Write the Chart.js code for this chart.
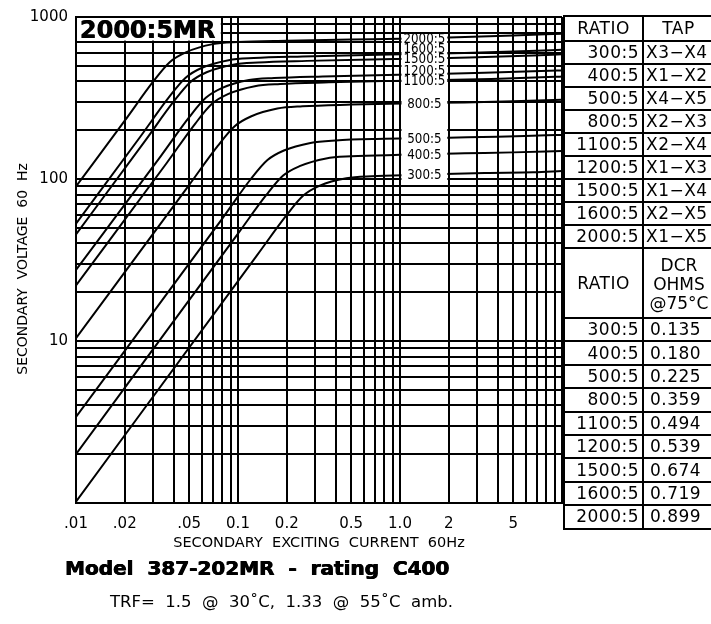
<!DOCTYPE html>
<html>
<head>
<meta charset="utf-8">
<script src="https://cdn.jsdelivr.net/npm/chart.js@4.4.1/dist/chart.umd.min.js"></script>
<style>
  body { margin: 0; background: #fff; }
  #wrap { position: relative; width: 711px; height: 624px; overflow: hidden; font-family: "DejaVu Sans", sans-serif; color: #000; }
  #excite_chart { position: absolute; left: 0; top: 0; }
  .tbl { position: absolute; left: 563px; width: 150px; border-collapse: collapse; table-layout: fixed; font-size: 17px; letter-spacing: 0.5px; }
  .tbl td { border: 2px solid #000; padding: 0; white-space: nowrap; overflow: hidden; line-height: 1; }
  .tbl td.r { text-align: right; padding-right: 3px; }
  .tbl td.l { text-align: left; padding-left: 2px; }
  .tbl td.v { text-align: left; padding-left: 6px; }
  .tbl td.c { text-align: center; }
  .tbl td.dcr { font-size: 17px; line-height: 19px; letter-spacing: 0; padding-left: 1px; padding-top: 2px; }
  #tap_table { top: 15px; }
  #tap_table tr { height: 23px; }
  #tap_table tr.head { height: 25px; }
  #dcr_table { top: 247px; }
  #dcr_table tr { height: 23.4px; }
  #dcr_table tr.head { height: 70px; }
  #model_line { position: absolute; left: 65px; top: 556px; font-weight: bold; font-size: 20px; white-space: pre; text-shadow: 0.6px 0 0 #000, -0.3px 0 0 #000; }
  #trf_line { position: absolute; left: 110px; top: 592px; font-size: 16.5px; white-space: pre; }
</style>
</head>
<body>
<div id="wrap">
  <canvas id="excite_chart" width="711" height="624"></canvas>
  <table id="tap_table" class="tbl">
    <colgroup><col style="width:79px"><col style="width:71px"></colgroup>
    <tbody></tbody>
  </table>
  <table id="dcr_table" class="tbl">
    <colgroup><col style="width:79px"><col style="width:71px"></colgroup>
    <tbody></tbody>
  </table>
  <div id="model_line"></div>
  <div id="trf_line"></div>
</div>
<script>
// ratios, taps and winding resistance from the side tables
const ratioLabels = ['300:5', '400:5', '500:5', '800:5', '1100:5', '1200:5', '1500:5', '1600:5', '2000:5'];
const tapLabels = ['X3−X4', 'X1−X2', 'X4−X5', 'X2−X3', 'X2−X4', 'X1−X3', 'X1−X4', 'X2−X5', 'X1−X5'];
const dcrOhms = ['0.135', '0.180', '0.225', '0.359', '0.494', '0.539', '0.674', '0.719', '0.899'];

// excitation curves, secondary amps vs secondary volts
const amps300 = [0.01, 0.133, 0.2, 0.253, 0.32, 0.467, 0.667, 1.33, 3.33, 6.67, 10];
const volts300 = [1.02, 34.5, 60, 79, 91, 101, 104, 106, 109, 110, 112];
const amps400 = [0.01, 0.1, 0.15, 0.19, 0.24, 0.35, 0.5, 1, 2.5, 5, 10];
const volts400 = [2.0, 46, 80, 105, 120, 134, 138, 141, 144, 146, 149];
const amps500 = [0.01, 0.08, 0.12, 0.152, 0.192, 0.28, 0.4, 0.8, 2, 4, 8, 10];
const volts500 = [3.4, 57, 100, 131, 150, 167, 173, 177, 180, 182, 186, 187];
const amps800 = [0.01, 0.05, 0.075, 0.095, 0.12, 0.175, 0.25, 0.5, 1.25, 2.5, 5, 10];
const volts800 = [10.4, 92, 160, 211, 243, 272, 281, 288, 294, 297, 302, 309];
const amps1100 = [0.01, 0.0364, 0.0545, 0.0691, 0.0873, 0.127, 0.182, 0.364, 0.909, 1.82, 3.64, 9.09, 10];
const volts1100 = [22, 126, 220, 291, 335, 374, 386, 395, 403, 408, 415, 427, 429];
const amps1200 = [0.01, 0.0333, 0.05, 0.0633, 0.08, 0.117, 0.167, 0.333, 0.833, 1.67, 3.33, 8.33, 10];
const volts1200 = [27.5, 138, 241, 317, 365, 408, 420, 430, 439, 444, 452, 465, 468];
const amps1500 = [0.01, 0.0267, 0.04, 0.0507, 0.064, 0.0933, 0.133, 0.267, 0.667, 1.33, 2.67, 6.67, 10];
const volts1500 = [45.5, 172, 300, 396, 456, 508, 524, 536, 547, 553, 563, 579, 588];
const amps1600 = [0.01, 0.025, 0.0375, 0.0475, 0.06, 0.0875, 0.125, 0.25, 0.625, 1.25, 2.5, 6.25, 10];
const volts1600 = [53, 183, 320, 422, 486, 541, 558, 571, 583, 590, 600, 617, 627];
const amps2000 = [0.01, 0.02, 0.03, 0.038, 0.048, 0.07, 0.1, 0.2, 0.5, 1, 2, 5, 10];
const volts2000 = [90, 229, 400, 528, 607, 680, 700, 714, 727, 734, 748, 770, 788];

// log paper grid and the labelled ticks
const xGridValues = [0.01, 0.02, 0.03, 0.04, 0.05, 0.06, 0.07, 0.08, 0.09,
  0.1, 0.2, 0.3, 0.4, 0.5, 0.6, 0.7, 0.8, 0.9,
  1, 2, 3, 4, 5, 6, 7, 8, 9, 10];
const xTickValues = [0.01, 0.02, 0.05, 0.1, 0.2, 0.5, 1, 2, 5];
const xTickLabels = ['.01', '.02', '.05', '0.1', '0.2', '0.5', '1.0', '2', '5'];
const yGridValues = [1, 2, 3, 4, 5, 6, 7, 8, 9,
  10, 20, 30, 40, 50, 60, 70, 80, 90,
  100, 200, 300, 400, 500, 600, 700, 800, 900, 1000];
const yTickValues = [10, 100, 1000];
const yTickLabels = ['10', '100', '1000'];

const chartTag = '2000:5MR';
const modelText = 'Model  387-202MR  -  rating  C400';
const trfText = 'TRF=  1.5  @  30˚C,  1.33  @  55˚C  amb.';

const curves = [
  [amps300, volts300], [amps400, volts400], [amps500, volts500],
  [amps800, volts800], [amps1100, volts1100], [amps1200, volts1200],
  [amps1500, volts1500], [amps1600, volts1600], [amps2000, volts2000]
];

const findLabel = (values, labels, v) => {
  const i = values.findIndex(t => Math.abs(t - v) / t < 1e-6);
  return i >= 0 ? labels[i] : '';
};

// volts on a curve at a given current, log-log between read points
const voltsAt = (amps, volts, a) => {
  for (let i = 1; i < amps.length; i++) {
    if (amps[i] >= a) {
      const t = Math.log(a / amps[i - 1]) / Math.log(amps[i] / amps[i - 1]);
      return Math.exp(Math.log(volts[i - 1]) + t * Math.log(volts[i] / volts[i - 1]));
    }
  }
  return volts[volts.length - 1];
};

const overlayPlugin = {
  id: 'overlay',
  afterDatasetsDraw(chart) {
    const {ctx, scales: {x, y}} = chart;
    ctx.save();

    // tag box in the top left corner
    const bx0 = x.getPixelForValue(0.01) + 1, bx1 = x.getPixelForValue(0.08) - 1.5;
    const by0 = y.getPixelForValue(1000) + 1, by1 = y.getPixelForValue(700) - 1.5;
    ctx.fillStyle = '#fff';
    ctx.fillRect(bx0, by0, bx1 - bx0, by1 - by0);
    ctx.fillStyle = '#000';
    ctx.font = 'bold 24px "DejaVu Sans"';
    ctx.textAlign = 'left';
    ctx.textBaseline = 'alphabetic';
    // drawn twice, a hair apart, for the heavy plotter lettering
    ctx.fillText(chartTag, bx0 + 2.5, by0 + 20);
    ctx.fillText(chartTag, bx0 + 3.3, by0 + 20);

    // ratio labels between 1.0 and 2 A, in a narrow lettering
    const lx0 = x.getPixelForValue(1) + 1.5, lx1 = x.getPixelForValue(2) - 1.5;
    const ly0 = y.getPixelForValue(780), ly1 = y.getPixelForValue(93);
    ctx.fillStyle = '#fff';
    ctx.fillRect(lx0, ly0, lx1 - lx0, ly1 - ly0);
    ctx.fillStyle = '#000';
    ctx.font = '14px "DejaVu Sans"';
    ctx.textAlign = 'center';
    ctx.textBaseline = 'middle';
    const cx = (lx0 + lx1) / 2;
    let lastY = Infinity;
    curves.forEach(([amps, volts], i) => {
      let py = y.getPixelForValue(voltsAt(amps, volts, 1.41));
      py = Math.min(py, lastY - 10);
      lastY = py;
      ctx.save();
      ctx.translate(cx, py + 1);
      ctx.scale(0.85, 1);
      ctx.fillText(ratioLabels[i], 0, 0);
      ctx.restore();
    });
    ctx.restore();
  }
};

document.addEventListener("DOMContentLoaded", () => {
  const tapBody = document.querySelector('#tap_table tbody');
  let tapRows = '<tr class="head"><td class="c">RATIO</td><td class="c">TAP</td></tr>';
  ratioLabels.forEach((r, i) => {
    tapRows += `<tr><td class="r">${r}</td><td class="l">${tapLabels[i]}</td></tr>`;
  });
  tapBody.innerHTML = tapRows;

  const dcrBody = document.querySelector('#dcr_table tbody');
  let dcrRows = '<tr class="head"><td class="c">RATIO</td><td class="c dcr">DCR<br>OHMS<br>@75°C</td></tr>';
  ratioLabels.forEach((r, i) => {
    dcrRows += `<tr><td class="r">${r}</td><td class="v">${dcrOhms[i]}</td></tr>`;
  });
  dcrBody.innerHTML = dcrRows;

  document.getElementById('model_line').textContent = modelText;
  document.getElementById('trf_line').textContent = trfText;

  const datasets = curves.map(([amps, volts], i) => ({
    label: ratioLabels[i],
    data: amps.map((a, j) => ({x: a, y: volts[j]})),
    borderColor: '#000',
    borderWidth: 2,
    pointRadius: 0,
    fill: false,
    cubicInterpolationMode: 'monotone'
  }));

  const gridStyle = {color: '#000', lineWidth: 2, drawTicks: false};
  const borderStyle = {display: true, color: '#000', width: 2};

  const ctx = document.getElementById('excite_chart').getContext('2d');
  new Chart(ctx, {
    type: 'line',
    data: {datasets: datasets},
    options: {
      responsive: false,
      animation: false,
      events: [],
      layout: {padding: {left: 0, top: 16, right: 149, bottom: 72}},
      plugins: {legend: {display: false}, tooltip: {enabled: false}},
      scales: {
        x: {
          type: 'logarithmic',
          min: 0.01,
          max: 10,
          afterBuildTicks: (scale) => { scale.ticks = xGridValues.map(v => ({value: v})); },
          afterFit: (scale) => { scale.height = 49; },
          grid: gridStyle,
          border: borderStyle,
          ticks: {
            autoSkip: false, maxRotation: 0, minRotation: 0, padding: 12,
            color: '#000', font: {family: 'DejaVu Sans', size: 15},
            callback: (v) => findLabel(xTickValues, xTickLabels, v)
          },
          title: {
            display: true, text: 'SECONDARY  EXCITING  CURRENT  60Hz', color: '#000',
            font: {family: 'DejaVu Sans', size: 14.5}, padding: {top: 0, bottom: 0}
          }
        },
        y: {
          type: 'logarithmic',
          min: 1,
          max: 1000,
          afterBuildTicks: (scale) => { scale.ticks = yGridValues.map(v => ({value: v})); },
          afterFit: (scale) => { scale.width = 76; },
          grid: gridStyle,
          border: borderStyle,
          ticks: {
            autoSkip: false, padding: 8,
            color: '#000', font: {family: 'DejaVu Sans', size: 15},
            callback: (v) => findLabel(yTickValues, yTickLabels, v)
          },
          title: {
            display: true, text: 'SECONDARY  VOLTAGE  60  Hz    ', color: '#000',
            font: {family: 'DejaVu Sans', size: 14}, padding: {top: 15, bottom: 0}
          }
        }
      }
    },
    plugins: [overlayPlugin]
  });
});
</script>
</body>
</html>
